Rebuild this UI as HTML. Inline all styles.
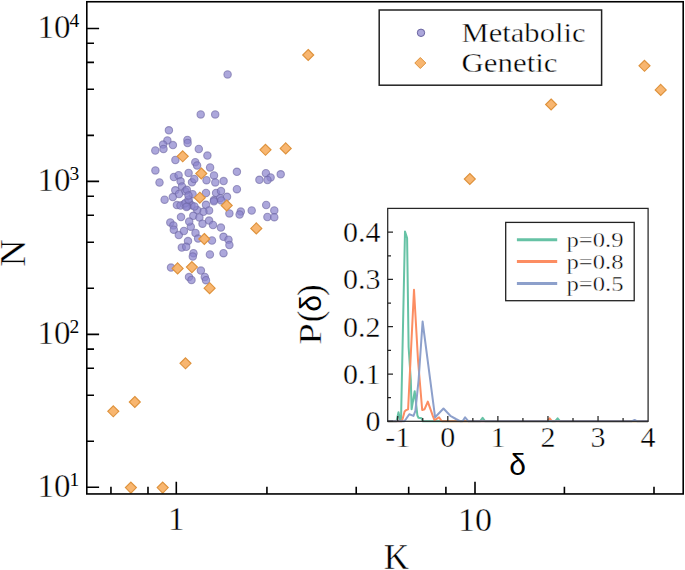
<!DOCTYPE html>
<html><head><meta charset="utf-8"><style>html,body{margin:0;padding:0;background:#fff;}svg{display:block;}text{stroke:#fff;stroke-width:0.4;}.sup,.sans{stroke:none}</style></head><body>
<svg width="685" height="570" viewBox="0 0 685 570">
<rect x="0" y="0" width="685" height="570" fill="#fff"/>
<path d="M86.80 487.28h12.3 M86.80 441.24h7.2 M86.80 395.19h7.2 M86.80 368.26h7.2 M86.80 349.15h7.2 M86.80 334.33h12.3 M86.80 288.29h7.2 M86.80 242.25h7.2 M86.80 215.32h7.2 M86.80 196.21h7.2 M86.80 181.38h12.3 M86.80 135.34h7.2 M86.80 89.30h7.2 M86.80 62.37h7.2 M86.80 43.26h7.2 M86.80 28.44h12.3 M110.95 493.95v-7.2 M147.99 493.95v-7.2 M176.30 493.95v-12.3 M266.93 493.95v-7.2 M356.22 493.95v-7.2 M408.68 493.95v-7.2 M445.90 493.95v-7.2 M475.00 493.95v-12.3 M564.40 493.95v-7.2 M654.00 493.95v-7.2" stroke="#000" stroke-width="1.6" fill="none"/>
<g fill="#8c85cd" fill-opacity="0.72" stroke="#6a64a0" stroke-opacity="0.6" stroke-width="1.1">
<circle cx="227.6" cy="74.4" r="3.7"/>
<circle cx="200.7" cy="114.4" r="3.7"/>
<circle cx="215.2" cy="114.4" r="3.7"/>
<circle cx="168.9" cy="130.3" r="3.7"/>
<circle cx="167.4" cy="140.4" r="3.7"/>
<circle cx="163.1" cy="144.6" r="3.7"/>
<circle cx="163.5" cy="148.9" r="3.7"/>
<circle cx="172.9" cy="145.1" r="3.7"/>
<circle cx="155.3" cy="150.5" r="3.7"/>
<circle cx="187.4" cy="140.0" r="3.7"/>
<circle cx="187.6" cy="143.0" r="3.7"/>
<circle cx="198.8" cy="149.0" r="3.7"/>
<circle cx="207.4" cy="155.6" r="3.7"/>
<circle cx="175.4" cy="159.9" r="3.7"/>
<circle cx="195.3" cy="162.2" r="3.7"/>
<circle cx="197.1" cy="165.5" r="3.7"/>
<circle cx="155.4" cy="170.4" r="3.7"/>
<circle cx="210.1" cy="167.5" r="3.7"/>
<circle cx="188.6" cy="172.9" r="3.7"/>
<circle cx="236.9" cy="171.8" r="3.7"/>
<circle cx="173.9" cy="177.0" r="3.7"/>
<circle cx="178.6" cy="175.2" r="3.7"/>
<circle cx="180.6" cy="181.3" r="3.7"/>
<circle cx="159.5" cy="182.5" r="3.7"/>
<circle cx="214.0" cy="175.4" r="3.7"/>
<circle cx="206.5" cy="180.2" r="3.7"/>
<circle cx="215.3" cy="182.4" r="3.7"/>
<circle cx="223.6" cy="181.1" r="3.7"/>
<circle cx="192.0" cy="182.3" r="3.7"/>
<circle cx="194.3" cy="179.0" r="3.7"/>
<circle cx="175.3" cy="190.3" r="3.7"/>
<circle cx="182.0" cy="186.5" r="3.7"/>
<circle cx="185.3" cy="191.3" r="3.7"/>
<circle cx="179.0" cy="194.0" r="3.7"/>
<circle cx="164.6" cy="199.7" r="3.7"/>
<circle cx="172.8" cy="197.1" r="3.7"/>
<circle cx="186.8" cy="189.8" r="3.7"/>
<circle cx="192.6" cy="194.2" r="3.7"/>
<circle cx="176.9" cy="205.1" r="3.7"/>
<circle cx="184.0" cy="204.2" r="3.7"/>
<circle cx="189.0" cy="202.0" r="3.7"/>
<circle cx="191.5" cy="205.3" r="3.7"/>
<circle cx="187.1" cy="206.1" r="3.7"/>
<circle cx="206.0" cy="204.8" r="3.7"/>
<circle cx="206.0" cy="192.9" r="3.7"/>
<circle cx="216.1" cy="192.9" r="3.7"/>
<circle cx="221.0" cy="191.1" r="3.7"/>
<circle cx="214.0" cy="199.9" r="3.7"/>
<circle cx="220.1" cy="198.2" r="3.7"/>
<circle cx="227.0" cy="196.8" r="3.7"/>
<circle cx="236.9" cy="189.2" r="3.7"/>
<circle cx="259.4" cy="179.8" r="3.7"/>
<circle cx="265.9" cy="173.2" r="3.7"/>
<circle cx="270.6" cy="177.4" r="3.7"/>
<circle cx="267.5" cy="180.0" r="3.7"/>
<circle cx="280.7" cy="174.3" r="3.7"/>
<circle cx="266.2" cy="205.0" r="3.7"/>
<circle cx="274.3" cy="210.4" r="3.7"/>
<circle cx="267.4" cy="217.0" r="3.7"/>
<circle cx="274.3" cy="217.2" r="3.7"/>
<circle cx="251.7" cy="210.5" r="3.7"/>
<circle cx="240.8" cy="211.6" r="3.7"/>
<circle cx="239.6" cy="214.5" r="3.7"/>
<circle cx="229.4" cy="213.4" r="3.7"/>
<circle cx="213.9" cy="201.3" r="3.7"/>
<circle cx="221.3" cy="200.4" r="3.7"/>
<circle cx="209.1" cy="210.5" r="3.7"/>
<circle cx="203.4" cy="211.8" r="3.7"/>
<circle cx="197.2" cy="210.1" r="3.7"/>
<circle cx="193.3" cy="215.8" r="3.7"/>
<circle cx="199.4" cy="217.5" r="3.7"/>
<circle cx="202.5" cy="223.7" r="3.7"/>
<circle cx="209.1" cy="220.6" r="3.7"/>
<circle cx="213.0" cy="225.0" r="3.7"/>
<circle cx="220.9" cy="227.6" r="3.7"/>
<circle cx="190.8" cy="226.7" r="3.7"/>
<circle cx="195.5" cy="232.9" r="3.7"/>
<circle cx="189.2" cy="221.6" r="3.7"/>
<circle cx="181.0" cy="217.1" r="3.7"/>
<circle cx="170.3" cy="222.4" r="3.7"/>
<circle cx="173.4" cy="225.4" r="3.7"/>
<circle cx="173.8" cy="229.7" r="3.7"/>
<circle cx="178.8" cy="235.1" r="3.7"/>
<circle cx="183.9" cy="231.0" r="3.7"/>
<circle cx="212.0" cy="240.5" r="3.7"/>
<circle cx="223.5" cy="236.8" r="3.7"/>
<circle cx="228.5" cy="239.7" r="3.7"/>
<circle cx="229.4" cy="245.0" r="3.7"/>
<circle cx="188.0" cy="241.1" r="3.7"/>
<circle cx="181.8" cy="247.6" r="3.7"/>
<circle cx="186.2" cy="246.8" r="3.7"/>
<circle cx="193.5" cy="253.2" r="3.7"/>
<circle cx="192.8" cy="256.5" r="3.7"/>
<circle cx="209.9" cy="254.5" r="3.7"/>
<circle cx="223.5" cy="253.2" r="3.7"/>
<circle cx="171.0" cy="267.6" r="3.7"/>
<circle cx="200.9" cy="270.6" r="3.7"/>
<circle cx="189.0" cy="277.1" r="3.7"/>
<circle cx="191.5" cy="279.9" r="3.7"/>
<circle cx="204.8" cy="277.0" r="3.7"/>
<circle cx="206.0" cy="280.2" r="3.7"/>
<circle cx="180.5" cy="205.5" r="3.7"/>
<circle cx="185.5" cy="203.0" r="3.7"/>
<circle cx="188.5" cy="199.5" r="3.7"/>
<circle cx="194.5" cy="206.5" r="3.7"/>
<circle cx="188.5" cy="195.5" r="3.7"/>
<circle cx="186.5" cy="207.0" r="3.7"/>
<circle cx="198.1" cy="238.6" r="3.7"/>
</g>
<g fill="#f8b268" fill-opacity="0.95" stroke="#de923c" stroke-width="1.15">
<path d="M308.2 49.5L313.7 55.0L308.2 60.5L302.7 55.0Z"/>
<path d="M644.5 60.3L650.0 65.8L644.5 71.3L639.0 65.8Z"/>
<path d="M660.7 84.4L666.2 89.9L660.7 95.4L655.2 89.9Z"/>
<path d="M551.1 99.0L556.6 104.5L551.1 110.0L545.6 104.5Z"/>
<path d="M265.5 144.3L271.0 149.8L265.5 155.3L260.0 149.8Z"/>
<path d="M285.7 142.9L291.2 148.4L285.7 153.9L280.2 148.4Z"/>
<path d="M469.8 173.5L475.3 179.0L469.8 184.5L464.3 179.0Z"/>
<path d="M182.7 150.8L188.2 156.3L182.7 161.8L177.2 156.3Z"/>
<path d="M201.3 168.0L206.8 173.5L201.3 179.0L195.8 173.5Z"/>
<path d="M199.8 192.2L205.3 197.7L199.8 203.2L194.3 197.7Z"/>
<path d="M226.7 200.0L232.2 205.5L226.7 211.0L221.2 205.5Z"/>
<path d="M256.3 222.9L261.8 228.4L256.3 233.9L250.8 228.4Z"/>
<path d="M204.3 233.5L209.8 239.0L204.3 244.5L198.8 239.0Z"/>
<path d="M177.6 262.9L183.1 268.4L177.6 273.9L172.1 268.4Z"/>
<path d="M191.9 261.6L197.4 267.1L191.9 272.6L186.4 267.1Z"/>
<path d="M209.6 282.7L215.1 288.2L209.6 293.7L204.1 288.2Z"/>
<path d="M185.5 357.8L191.0 363.3L185.5 368.8L180.0 363.3Z"/>
<path d="M134.8 396.5L140.3 402.0L134.8 407.5L129.3 402.0Z"/>
<path d="M113.3 405.8L118.8 411.3L113.3 416.8L107.8 411.3Z"/>
<path d="M130.9 482.1L136.4 487.6L130.9 493.1L125.4 487.6Z"/>
<path d="M162.7 482.1L168.2 487.6L162.7 493.1L157.2 487.6Z"/>
</g>
<rect x="86.8" y="1.75" width="596.40" height="492.20" fill="none" stroke="#000" stroke-width="1.6"/>
<text x="37.6" y="38.0" font-family="Liberation Serif, serif" font-size="33" textLength="33" lengthAdjust="spacingAndGlyphs">10</text>
<text class="sup" x="69.5" y="27.1" font-family="Liberation Serif, serif" font-size="19.5">4</text>
<text x="37.6" y="191.0" font-family="Liberation Serif, serif" font-size="33" textLength="33" lengthAdjust="spacingAndGlyphs">10</text>
<text class="sup" x="69.5" y="180.1" font-family="Liberation Serif, serif" font-size="19.5">3</text>
<text x="37.6" y="343.9" font-family="Liberation Serif, serif" font-size="33" textLength="33" lengthAdjust="spacingAndGlyphs">10</text>
<text class="sup" x="69.5" y="333.0" font-family="Liberation Serif, serif" font-size="19.5">2</text>
<text x="37.6" y="496.9" font-family="Liberation Serif, serif" font-size="33" textLength="33" lengthAdjust="spacingAndGlyphs">10</text>
<text class="sup" x="69.5" y="486.0" font-family="Liberation Serif, serif" font-size="19.5">1</text>
<text x="176.3" y="530.3" text-anchor="middle" font-family="Liberation Serif, serif" font-size="33">1</text>
<text x="475.0" y="530.5" text-anchor="middle" font-family="Liberation Serif, serif" font-size="33" textLength="34" lengthAdjust="spacingAndGlyphs">10</text>
<text x="396.5" y="568.5" text-anchor="middle" font-family="Liberation Serif, serif" font-size="35">K</text>
<text transform="translate(24.9,252.7) rotate(-90)" text-anchor="middle" font-family="Liberation Serif, serif" font-size="35" textLength="27.4" lengthAdjust="spacingAndGlyphs">N</text>
<rect x="379.2" y="10" width="222.4" height="75.2" fill="#fff" stroke="#222" stroke-width="1.5"/>
<circle cx="421" cy="32.8" r="3.7" fill="#8c85cd" fill-opacity="0.72" stroke="#6a64a0" stroke-width="1"/>
<path d="M420.3 57.5L425.8 63L420.3 68.5L414.8 63Z" fill="#f8b268" fill-opacity="0.95" stroke="#de923c" stroke-width="1"/>
<text x="461.5" y="41.7" font-family="Liberation Serif, serif" font-size="27.5" textLength="124" lengthAdjust="spacingAndGlyphs">Metabolic</text>
<text x="461.5" y="72" font-family="Liberation Serif, serif" font-size="27.5" textLength="96" lengthAdjust="spacingAndGlyphs">Genetic</text>
<rect x="387.7" y="208.4" width="260.4" height="212.9" fill="#fff" stroke="none"/>
<g fill="none" stroke-width="2.0" stroke-linejoin="round">
<polyline points="387.7,421.3 396.5,421.3 398.5,412.3 400.2,420.8 401.0,420.8 405.0,231.6 407.1,238.0 408.6,347.0 410.8,380.0 411.6,409.3 414.7,391.2 417.4,415.5 418.5,417.8 421.6,418.2 422.6,421.3 480.0,421.3 482.6,417.8 485.2,421.3 555.0,421.3 557.6,418.3 560.2,421.3 648.1,421.3" stroke="#66c2a5"/>
<polyline points="387.7,421.3 401.5,421.3 402.7,418.6 404.6,411.6 406.2,410.1 408.1,409.3 414.0,289.8 418.0,360.0 422.2,410.0 424.6,409.2 427.8,401.6 432.9,416.2 434.5,420.1 439.0,417.3 441.8,421.3 547.0,421.3 549.6,418.3 552.2,421.3 648.1,421.3" stroke="#fc8d62"/>
<polyline points="387.7,421.3 404.5,421.3 409.3,414.3 413.5,415.9 415.4,410.9 418.6,380.0 422.6,321.5 435.1,417.3 443.5,408.5 450.8,416.2 455.9,419.0 460.5,421.3 462.5,421.3 465.1,417.4 468.5,421.3 631.5,421.3 634.6,420.0 637.5,421.3 648.1,421.3" stroke="#8da0cb"/>
</g>
<path d="M387.7 421.30h5.3 M387.7 397.65h3.3 M387.7 374.00h5.3 M387.7 350.35h3.3 M387.7 326.70h5.3 M387.7 303.05h3.3 M387.7 279.40h5.3 M387.7 255.75h3.3 M387.7 232.10h5.3 M397.72 421.3v-5.3 M422.76 421.3v-3.3 M447.80 421.3v-5.3 M472.84 421.3v-3.3 M497.88 421.3v-5.3 M522.92 421.3v-3.3 M547.96 421.3v-5.3 M573.00 421.3v-3.3 M598.04 421.3v-5.3 M623.08 421.3v-3.3" stroke="#262626" stroke-width="1.25" fill="none"/>
<rect x="387.7" y="208.4" width="260.4" height="212.9" fill="none" stroke="#262626" stroke-width="1.25"/>
<text x="380.5" y="431.3" text-anchor="end" font-family="Liberation Serif, serif" font-size="30">0</text>
<text x="380.5" y="384.0" text-anchor="end" font-family="Liberation Serif, serif" font-size="30">0.1</text>
<text x="380.5" y="336.7" text-anchor="end" font-family="Liberation Serif, serif" font-size="30">0.2</text>
<text x="380.5" y="289.4" text-anchor="end" font-family="Liberation Serif, serif" font-size="30">0.3</text>
<text x="380.5" y="242.1" text-anchor="end" font-family="Liberation Serif, serif" font-size="30">0.4</text>
<text x="397.7" y="446.8" text-anchor="middle" font-family="Liberation Serif, serif" font-size="30">-1</text>
<text x="447.8" y="446.8" text-anchor="middle" font-family="Liberation Serif, serif" font-size="30">0</text>
<text x="497.9" y="446.8" text-anchor="middle" font-family="Liberation Serif, serif" font-size="30">1</text>
<text x="548.0" y="446.8" text-anchor="middle" font-family="Liberation Serif, serif" font-size="30">2</text>
<text x="598.0" y="446.8" text-anchor="middle" font-family="Liberation Serif, serif" font-size="30">3</text>
<text x="648.1" y="446.8" text-anchor="middle" font-family="Liberation Serif, serif" font-size="30">4</text>
<text class="sans" x="517.6" y="474.5" text-anchor="middle" font-family="Liberation Sans, sans-serif" font-size="30">δ</text>
<g transform="translate(321.1,0) rotate(-90)" font-family="Liberation Serif, serif" text-anchor="middle">
<text x="-334" y="0" font-size="31.5" textLength="21.5" lengthAdjust="spacingAndGlyphs">P</text>
<text x="-316.5" y="0.8" font-size="35">(</text>
<text class="sans" x="-303.3" y="0" font-size="30" font-family="Liberation Sans, sans-serif">δ</text>
<text x="-290.1" y="0.8" font-size="35">)</text>
</g>
<rect x="505.7" y="222.4" width="128.5" height="78.3" fill="#fff" stroke="#222" stroke-width="1.3"/>
<line x1="516.9" y1="239.8" x2="557.2" y2="239.8" stroke="#66c2a5" stroke-width="3"/>
<text x="566.5" y="247.0" font-family="Liberation Serif, serif" font-size="22" textLength="57" lengthAdjust="spacingAndGlyphs">p=0.9</text>
<line x1="516.9" y1="261.6" x2="557.2" y2="261.6" stroke="#fc8d62" stroke-width="3"/>
<text x="566.5" y="268.8" font-family="Liberation Serif, serif" font-size="22" textLength="57" lengthAdjust="spacingAndGlyphs">p=0.8</text>
<line x1="516.9" y1="283.4" x2="557.2" y2="283.4" stroke="#8da0cb" stroke-width="3"/>
<text x="566.5" y="290.6" font-family="Liberation Serif, serif" font-size="22" textLength="57" lengthAdjust="spacingAndGlyphs">p=0.5</text>
</svg>
</body></html>
